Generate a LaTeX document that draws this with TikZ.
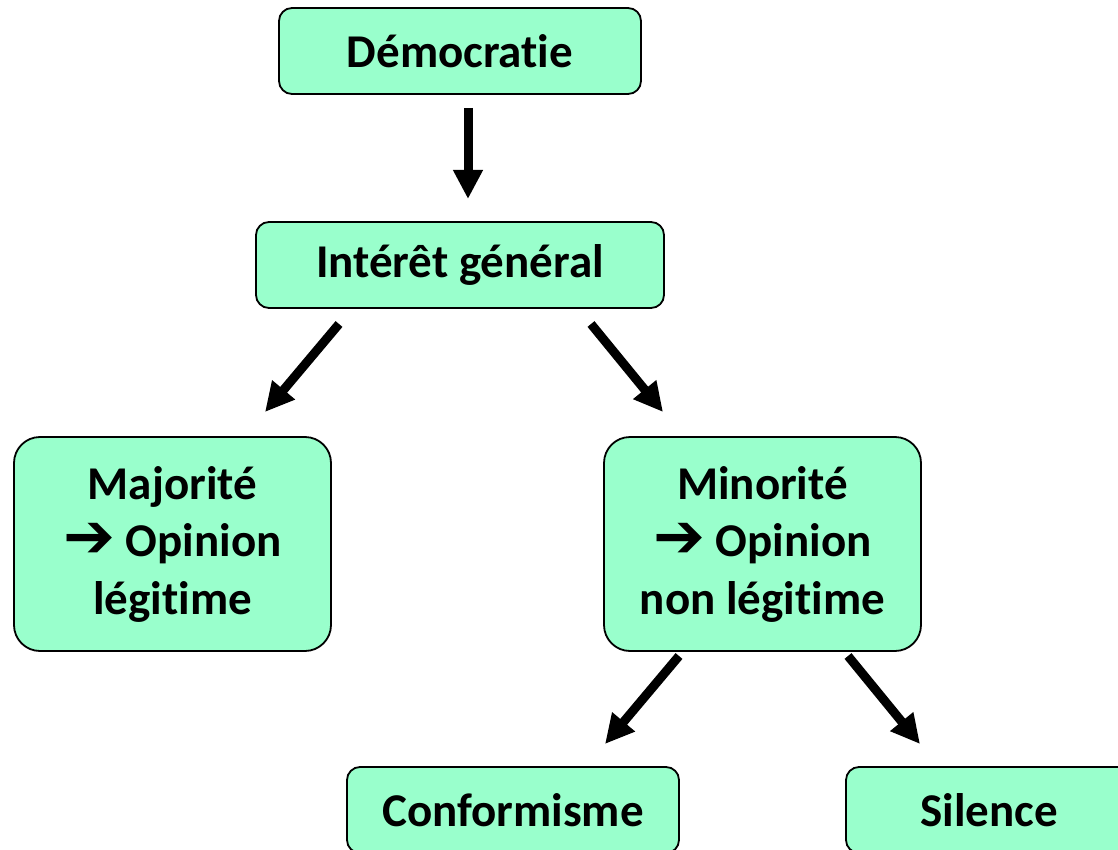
\documentclass[tikz,border=0pt]{standalone}
\usepackage{fontspec}
\setmainfont{Carlito}[Ligatures=NoCommon]
\newfontfamily\symfont{DejaVu Sans}
\usetikzlibrary{arrows.meta}
\definecolor{boxgreen}{HTML}{99FFCC}
\newcommand{\rarr}{\raisebox{-1pt}{\symfont\bfseries\fontsize{62}{62}\selectfont ➔}}
\tikzset{
  box/.style={draw=black, line width=1.8pt, fill=boxgreen, rounded corners=13pt,
    inner sep=0pt, align=center, font=\fontsize{47}{57.5}\selectfont\bfseries},
  bigbox/.style={box, rounded corners=26pt},
  flow/.style={line width=9pt, -{Triangle[width=28pt,length=29pt]}}
}
\begin{document}
\begin{tikzpicture}[x=1pt, y=-1pt]
  \useasboundingbox (0,0) rectangle (1118,850);
  \clip (0,0) rectangle (1118,850);

  % boxes
  \node[box, minimum width=362pt, minimum height=86pt] (demo) at (460,51) {Démocratie};
  \node[box, minimum width=408pt, minimum height=86pt] (interet) at (460,265) {Intérêt général};
  \node[bigbox, minimum width=317pt, minimum height=214pt] (major) at (172.5,544)
    {Majorité\\\rarr\ Opinion\\légitime};
  \node[bigbox, minimum width=317pt, minimum height=214pt] (minor) at (762.5,544)
    {Minorité\\\rarr\ Opinion\\non légitime};
  \node[box, minimum width=332pt, minimum height=86pt] (conf) at (513,810) {Conformisme};
  \node[box, minimum width=286pt, minimum height=86pt] (sil) at (989,810) {Silence};

  % arrow end points between the boxes
  \coordinate (d0) at (468,108);
  \coordinate (d1) at (468,199);
  \coordinate (l0) at (339,324);
  \coordinate (l1) at (265,412);
  \coordinate (r0) at (591,324);
  \coordinate (r1) at (663,412);
  \coordinate (ml0) at (679,656);
  \coordinate (ml1) at (605,744);
  \coordinate (mr0) at (848,656);
  \coordinate (mr1) at (920,744);

  % connectors
  \draw[flow] (d0) -- (d1);
  \draw[flow] (l0) -- (l1);
  \draw[flow] (r0) -- (r1);
  \draw[flow] (ml0) -- (ml1);
  \draw[flow] (mr0) -- (mr1);
\end{tikzpicture}
\end{document}
